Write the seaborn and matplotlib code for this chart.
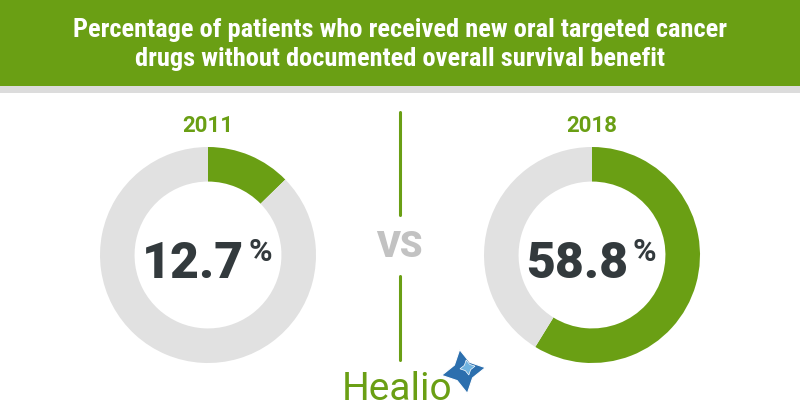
import matplotlib
matplotlib.use("Agg")
import matplotlib.pyplot as plt
import seaborn as sns
from matplotlib import font_manager as fm

sns.set_theme(style="white")

# ---- data ----
years = ["2011", "2018"]
percent = [12.7, 58.8]
title_lines = ["Percentage of patients who received new oral targeted cancer",
               "drugs without documented overall survival benefit"]
vs_label = "VS"
brand = "Healio"

GREEN = "#6a9f14"
RING_GRAY = "#e1e1e1"
DARK = "#333a3d"
VS_GRAY = "#c2c2c2"

names = {f.name for f in fm.fontManager.ttflist}
prefs = ["Roboto Condensed", "Barlow Condensed", "Fira Sans Condensed", "Archivo Narrow"]
title_font = next((n for n in prefs if n in names), "Roboto")

plt.rcParams["font.family"] = ["Roboto", "DejaVu Sans"]

fig = plt.figure(figsize=(8, 4.2), dpi=100)
fig.patch.set_facecolor("white")
bg = fig.add_axes([0, 0, 1, 1])
bg.set_xlim(0, 800)
bg.set_ylim(420, 0)
bg.axis("off")

bg.add_patch(plt.Rectangle((0, 0), 800, 86, color=GREEN, lw=0))
bg.add_patch(plt.Rectangle((0, 86), 800, 7, color="#dcdcdc", lw=0))
bg.text(400, 30, title_lines[0], color="white", ha="center", va="center",
        fontsize=19, fontweight="bold", family=[title_font, "DejaVu Sans"])
bg.text(400, 59, title_lines[1], color="white", ha="center", va="center",
        fontsize=19, fontweight="bold", family=[title_font, "DejaVu Sans"])

centers = [208, 592]
R = 108
for cx, yr, p in zip(centers, years, percent):
    ax = fig.add_axes([(cx - R) / 800, (420 - 255 - R) / 420, 2 * R / 800, 2 * R / 420])
    ax.pie([p, 100 - p], colors=[GREEN, RING_GRAY], startangle=90, counterclock=False,
           radius=1, wedgeprops=dict(width=0.32, linewidth=0))
    ax.set_xlim(-1, 1)
    ax.set_ylim(-1, 1)
    ax.set_aspect("equal")
    ax.axis("off")
    bg.text(cx, 126, yr, color=GREEN, ha="center", va="center",
            fontsize=16, fontweight="bold")
    bg.text(cx + 36, 278, f"{p:.1f}", color=DARK, ha="right", va="baseline",
            fontsize=36, fontweight="heavy")
    bg.text(cx + 40, 261, "%", color=DARK, ha="left", va="baseline",
            fontsize=23, fontweight="bold")

bg.plot([400, 400], [112, 215], color=GREEN, lw=2.2)
bg.plot([400, 400], [276, 360], color=GREEN, lw=2.2)
bg.text(399, 257, vs_label, color=VS_GRAY, ha="center", va="baseline",
        fontsize=26, fontweight="black")

bg.text(342, 400, brand, color=GREEN, ha="left", va="baseline", fontsize=28)
bg.plot([463], [371], marker=(4, 1, 10), markersize=32, color="#2c6fae", mec="white", mew=0.8)
bg.plot([467], [367], marker=(4, 1, 10), markersize=11, color="#6fb3e0", mec="white", mew=0.5)

fig.savefig("out.png", dpi=100, facecolor="white")
